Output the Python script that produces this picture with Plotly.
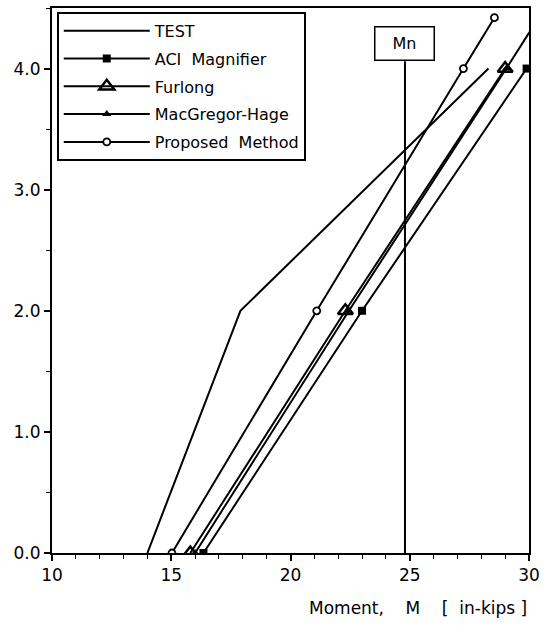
import plotly.graph_objects as go

# ---- data ----
test_x = [14.0, 17.9, 28.3]
test_y = [0.0, 2.0, 4.0]

aci_x = [16.35, 23.0, 29.9]
aci_y = [0.0, 2.0, 4.0]

furlong_x = [15.8, 22.3, 29.0]
furlong_y = [0.0, 2.0, 4.0]

macg_x = [16.0, 22.45, 29.05, 30.4]
macg_y = [0.0, 2.0, 4.0, 4.42]

prop_x = [15.03, 21.1, 27.25, 28.55]
prop_y = [0.0, 2.0, 4.0, 4.42]

mn_value = 24.8
mn_top = 4.06

x_ticks = [10, 15, 20, 25, 30]
y_ticks = [0.0, 1.0, 2.0, 3.0, 4.0]

FONT = "DejaVu Sans"
BLK = "black"
NB = "\u00a0"

fig = go.Figure()

fig.add_trace(go.Scatter(x=test_x, y=test_y, name="TEST", mode="lines",
                         line=dict(color=BLK, width=2), legendgroup="a"))
fig.add_trace(go.Scatter(x=aci_x, y=aci_y, name="ACI" + NB * 2 + "Magnifier", mode="lines+markers",
                         line=dict(color=BLK, width=2),
                         marker=dict(symbol="square", size=8, color=BLK), legendgroup="b"))
fig.add_trace(go.Scatter(x=furlong_x, y=furlong_y, name="Furlong", mode="lines+markers",
                         line=dict(color=BLK, width=2),
                         marker=dict(symbol="triangle-up-open", size=13, color=BLK,
                                     line=dict(width=2.5, color=BLK)), legendgroup="c"))
fig.add_trace(go.Scatter(x=macg_x, y=macg_y, name="MacGregor-Hage", mode="lines+markers",
                         line=dict(color=BLK, width=2),
                         marker=dict(symbol="triangle-up", size=8, color=BLK), legendgroup="d"))
fig.add_trace(go.Scatter(x=prop_x, y=prop_y, name="Proposed" + NB * 2 + "Method", mode="lines+markers",
                         line=dict(color=BLK, width=2),
                         marker=dict(symbol="circle", size=7, color="white",
                                     line=dict(width=1.8, color=BLK)), legendgroup="e"))

# Mn vertical line + label box
fig.add_shape(type="line", x0=mn_value, x1=mn_value, y0=0, y1=mn_top,
              xref="x", yref="y", line=dict(color=BLK, width=2))
fig.add_annotation(x=mn_value, y=mn_top, xref="x", yref="y", yanchor="bottom",
                   text="Mn", showarrow=False, font=dict(family=FONT, size=16, color=BLK),
                   bordercolor=BLK, borderwidth=1.5, borderpad=6, bgcolor="white",
                   width=46, height=20)

# x-axis title (right aligned)
fig.add_annotation(x=1.0, y=-0.101, xref="paper", yref="paper", xanchor="right",
                   yanchor="middle", showarrow=False,
                   text="Moment," + NB * 4 + "M" + NB * 4 + "[" + NB * 2 + "in-kips" + NB + "]",
                   font=dict(family=FONT, size=17, color=BLK))

axis_common = dict(showline=True, linecolor=BLK, linewidth=2, mirror=True,
                   ticks="outside", ticklen=6, tickwidth=1.5, tickcolor=BLK,
                   showgrid=False, zeroline=False,
                   tickfont=dict(family=FONT, size=17, color=BLK))

fig.update_xaxes(range=[10, 30], tickvals=x_ticks, ticktext=[str(v) for v in x_ticks],
                 minor=dict(dtick=1, ticklen=4, tickwidth=1, tickcolor=BLK, ticks="outside"),
                 **axis_common)
fig.update_yaxes(range=[0, 4.5], tickvals=y_ticks, ticktext=[f"{v:.1f}" for v in y_ticks],
                 minor=dict(dtick=0.5, ticklen=4, tickwidth=1, tickcolor=BLK, ticks="outside"),
                 **axis_common)

fig.update_layout(
    width=546, height=629,
    margin=dict(l=52, r=15, t=6, b=76),
    plot_bgcolor="white", paper_bgcolor="white",
    font=dict(family=FONT, color=BLK),
    legend=dict(x=0.01, y=0.993, xanchor="left", yanchor="top",
                bordercolor=BLK, borderwidth=2, bgcolor="white",
                font=dict(family=FONT, size=16, color=BLK),
                tracegroupgap=4, itemwidth=86),
)

fig.write_html("out.html", config={"displayModeBar": False},
               post_script="document.body.style.margin='0px';")
